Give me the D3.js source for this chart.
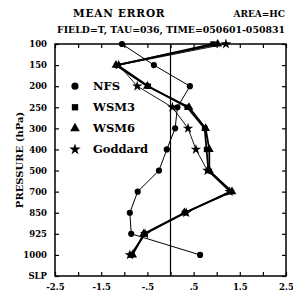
<!DOCTYPE html>
<html>
<head>
<meta charset="utf-8">
<script src="https://cdn.jsdelivr.net/npm/d3@7"></script>
<style>
  body { margin: 0; background: #fff; }
  text { font-family: "DejaVu Serif", "Liberation Serif", serif; font-weight: bold; fill: #000; }
</style>
</head>
<body>
<div id="chart"></div>
<script>
// pressure levels (top to bottom), SLP has no data
const levels = ['100', '150', '200', '250', '300', '400', '500', '700', '850', '925', '1000', 'SLP']
const xTicks = [-2.5, -2, -1.5, -1, -0.5, 0, 0.5, 1, 1.5, 2, 2.5]
const xLabels = { '-2.5': '-2.5', '-1.5': '-1.5', '-0.5': '-.5', '0.5': '.5', '1.5': '1.5', '2.5': '2.5' }

const nfs     = [-1.05, -0.36, 0.42, 0.15, 0.10, -0.08, -0.25, -0.71, -0.88, -0.85, 0.64]
const wsm3    = [0.92, -1.15, -0.48, 0.36, 0.74, 0.78, 0.82, 1.30, 0.32, -0.55, -0.85]
const wsm6    = [1.02, -1.18, -0.50, 0.40, 0.76, 0.84, 0.84, 1.33, 0.30, -0.58, -0.82]
const goddard = [1.20, -1.12, -0.72, 0.04, 0.38, 0.55, 0.80, 1.28, 0.34, -0.55, -0.88]

const series = [
  { name: 'NFS', values: nfs, symbol: d3.symbolCircle, size: 30, lw: 1 },
  { name: 'WSM3', values: wsm3, symbol: d3.symbolSquare, size: 30, lw: 1.8 },
  { name: 'WSM6', values: wsm6, symbol: d3.symbolTriangle, size: 34, lw: 1.8 },
  { name: 'Goddard', values: goddard, symbol: d3.symbolStar, size: 34, lw: 0.9 }
]

const width = 293
const height = 291
const pLeft = 55, pRight = 286, pTop = 44, pBottom = 276

const svg = d3.select('#chart').append('svg')
  .attr('width', width)
  .attr('height', height)

let xScale = d3.scaleLinear().domain([-2.5, 2.5]).range([pLeft, pRight])
let yScale = d3.scalePoint().domain(levels).range([pTop, pBottom])

// frame
svg.append('rect')
  .attr('x', pLeft).attr('y', pTop)
  .attr('width', pRight - pLeft).attr('height', pBottom - pTop)
  .attr('fill', 'none').attr('stroke', '#000').attr('stroke-width', 1.5)

// zero line
svg.append('line')
  .attr('x1', xScale(0)).attr('x2', xScale(0))
  .attr('y1', pTop).attr('y2', pBottom)
  .attr('stroke', '#000').attr('stroke-width', 1.2)

let xAxis = d3.axisBottom(xScale)
  .tickValues(xTicks)
  .tickSize(-4)
  .tickPadding(8)
  .tickFormat(d => xLabels[String(d)] || '')

let xAxisTop = d3.axisTop(xScale)
  .tickValues(xTicks)
  .tickSize(-4)
  .tickFormat('')

let yAxis = d3.axisLeft(yScale)
  .tickSize(-4)
  .tickPadding(8)

let yAxisRight = d3.axisRight(yScale)
  .tickSize(-4)
  .tickFormat('')

function styleAxis(g) {
  g.select('.domain').remove()
  g.selectAll('line').attr('stroke', '#000').attr('stroke-width', 1.2)
  g.selectAll('text').attr('font-size', 8.5).attr('font-family', '"DejaVu Serif", serif').attr('font-weight', 'bold').attr('fill', '#000')
}

svg.append('g').attr('transform', 'translate(0,' + pBottom + ')').call(xAxis).call(styleAxis)
svg.append('g').attr('transform', 'translate(0,' + pTop + ')').call(xAxisTop).call(styleAxis)
svg.append('g').attr('transform', 'translate(' + pLeft + ',0)').call(yAxis).call(styleAxis)
svg.append('g').attr('transform', 'translate(' + pRight + ',0)').call(yAxisRight).call(styleAxis)

// profiles
const line = d3.line()
  .x(d => xScale(d.v))
  .y(d => yScale(d.lev))

series.forEach(s => {
  const pts = s.values.map((v, i) => ({ v: v, lev: levels[i] }))
  svg.append('path')
    .datum(pts)
    .attr('d', line)
    .attr('fill', 'none')
    .attr('stroke', '#000')
    .attr('stroke-width', s.lw)
  svg.selectAll(null)
    .data(pts)
    .enter()
    .append('path')
    .attr('d', d3.symbol().type(s.symbol).size(s.size))
    .attr('transform', d => 'translate(' + xScale(d.v) + ',' + yScale(d.lev) + ')')
    .attr('fill', '#000')
})

// legend
series.forEach((s, i) => {
  const y = yScale(levels[i + 2])
  svg.append('path')
    .attr('d', d3.symbol().type(s.symbol).size(40))
    .attr('transform', 'translate(75,' + y + ')')
    .attr('fill', '#000')
  svg.append('text')
    .attr('x', 93).attr('y', y + 3.5)
    .attr('font-size', 11.5)
    .attr('font-family', '"Liberation Mono", "DejaVu Sans Mono", monospace')
    .text(s.name)
})

// titles
svg.append('text').attr('x', 73).attr('y', 17).attr('font-size', 10.5).attr('letter-spacing', 0.8).text('MEAN ERROR')
svg.append('text').attr('x', 285).attr('y', 17).attr('font-size', 9).attr('text-anchor', 'end').text('AREA=HC')
svg.append('text').attr('x', 171).attr('y', 33).attr('font-size', 9.4).attr('text-anchor', 'middle')
  .text('FIELD=T, TAU=036, TIME=050601-050831')

svg.append('text')
  .attr('transform', 'translate(23,' + ((pTop + pBottom) / 2) + ') rotate(-90)')
  .attr('text-anchor', 'middle')
  .attr('font-size', 10)
  .text('PRESSURE (hPa)')
</script>
</body>
</html>
